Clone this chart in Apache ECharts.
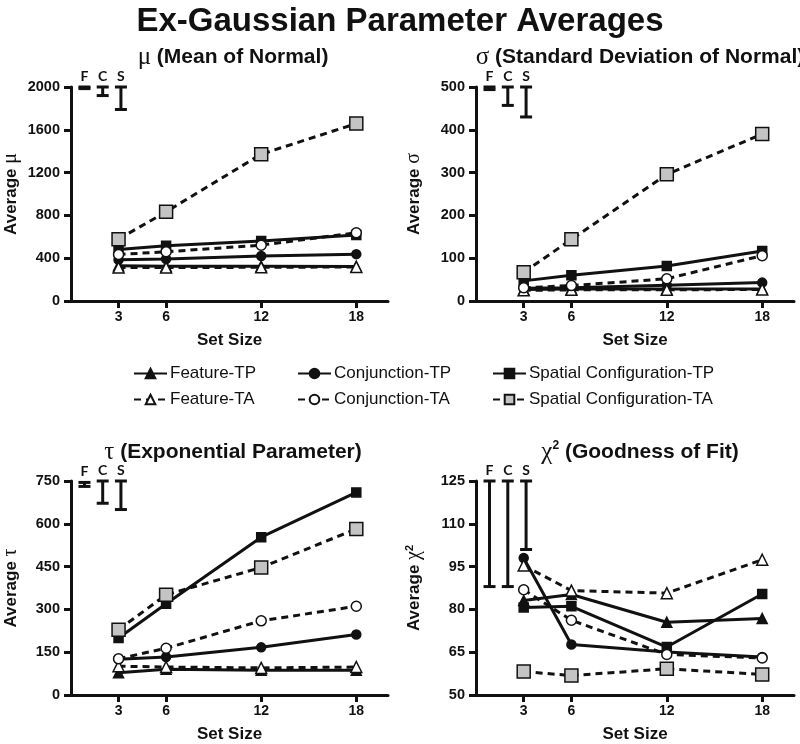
<!DOCTYPE html>
<html>
<head>
<meta charset="utf-8">
<script src="https://cdn.jsdelivr.net/npm/echarts@6/dist/echarts.min.js"></script>
<style>html,body{margin:0;padding:0;background:#fff}#c{width:800px;height:744px}</style>
</head>
<body>
<div id="c"></div>
<script>
// ---------- data ----------
const setSizes = [3, 6, 12, 18];

const muFeatureTP = [330, 325, 325, 322];
const muConjunctionTP = [385, 393, 420, 438];
const muSpatialTP = [482, 516, 560, 616];
const muFeatureTA = [312, 312, 315, 318];
const muConjunctionTA = [435, 460, 522, 638];
const muSpatialTA = [578, 834, 1372, 1658];

const sigmaFeatureTP = [27, 28, 28, 28];
const sigmaConjunctionTP = [30, 31, 37, 43];
const sigmaSpatialTP = [47, 60, 82, 117];
const sigmaFeatureTA = [25, 26, 26, 27];
const sigmaConjunctionTA = [31, 36, 52, 106];
const sigmaSpatialTA = [67, 144, 296, 390];

const tauFeatureTP = [78, 90, 87, 87];
const tauConjunctionTP = [125, 133, 167, 212];
const tauSpatialTP = [200, 320, 553, 710];
const tauFeatureTA = [101, 98, 95, 98];
const tauConjunctionTA = [127, 164, 260, 311];
const tauSpatialTA = [229, 351, 447, 582];

const chiFeatureTP = [83.1, 85.2, 75.5, 76.8];
const chiConjunctionTP = [98.0, 67.7, 65.1, 63.3];
const chiSpatialTP = [80.7, 81.1, 66.8, 85.4];
const chiFeatureTA = [95.4, 86.6, 85.7, 97.4];
const chiConjunctionTA = [86.9, 76.2, 64.2, 63.0];
const chiSpatialTA = [58.2, 56.8, 59.2, 57.2];

// error bars (F, C, S)
const errLabels = ['F', 'C', 'S'];
const errX = [0.85, 2.0, 3.15];
const muErrLow = [1985, 1920, 1790];
const muErrHigh = [2000, 2000, 2000];
const sigmaErrLow = [494, 457, 430];
const sigmaErrHigh = [500, 500, 500];
const tauErrLow = [731, 672, 650];
const tauErrHigh = [745, 750, 750];
const chiErrLow = [88, 88, 101];
const chiErrHigh = [125, 125, 125];

// tick labels
const xTicks = [3, 6, 12, 18];
const muTicks = [0, 400, 800, 1200, 1600, 2000];
const sigmaTicks = [0, 100, 200, 300, 400, 500];
const tauTicks = [0, 150, 300, 450, 600, 750];
const chiTicks = [50, 65, 80, 95, 110, 125];

const seriesNames = ['Feature-TP', 'Conjunction-TP', 'Spatial Configuration-TP',
                     'Feature-TA', 'Conjunction-TA', 'Spatial Configuration-TA'];

// ---------- styling / layout ----------
const INK = '#111';
const FONT = '"Liberation Sans", Arial, sans-serif';
const grids = [
  {left: 68, top: 87, width: 320, height: 214},
  {left: 476, top: 87, width: 318, height: 214},
  {left: 68, top: 481, width: 320, height: 215},
  {left: 476, top: 481, width: 318, height: 215}
];
const panels = [
  {vals: [muFeatureTP, muConjunctionTP, muSpatialTP, muFeatureTA, muConjunctionTA, muSpatialTA],
   err: [muErrLow, muErrHigh], ticks: muTicks, min: 0, max: 2000,
   yName: 'Average {g|μ}', title: '{g|μ} (Mean of Normal)', nameGap: 50, titleTop: 40},
  {vals: [sigmaFeatureTP, sigmaConjunctionTP, sigmaSpatialTP, sigmaFeatureTA, sigmaConjunctionTA, sigmaSpatialTA],
   err: [sigmaErrLow, sigmaErrHigh], ticks: sigmaTicks, min: 0, max: 500,
   yName: 'Average {g|σ}', title: '{g|σ} (Standard Deviation of Normal)', nameGap: 52, titleTop: 40},
  {vals: [tauFeatureTP, tauConjunctionTP, tauSpatialTP, tauFeatureTA, tauConjunctionTA, tauSpatialTA],
   err: [tauErrLow, tauErrHigh], ticks: tauTicks, min: 0, max: 750,
   yName: 'Average {g|τ}', title: '{g|τ} (Exponential Parameter)', nameGap: 50, titleTop: 435},
  {vals: [chiFeatureTP, chiConjunctionTP, chiSpatialTP, chiFeatureTA, chiConjunctionTA, chiSpatialTA],
   err: [chiErrLow, chiErrHigh], ticks: chiTicks, min: 50, max: 125,
   yName: 'Average {g|χ}{sup|2}', title: '{g|χ}{sup|2} (Goodness of Fit)', nameGap: 52, titleTop: 435}
];
const styles = [
  {symbol: 'triangle', size: 10, fill: INK, dash: 'solid'},
  {symbol: 'circle', size: 9, fill: INK, dash: 'solid'},
  {symbol: 'rect', size: 9, fill: INK, dash: 'solid'},
  {symbol: 'triangle', size: 11, fill: '#fff', dash: [7, 5]},
  {symbol: 'circle', size: 10, fill: '#fff', dash: [7, 5]},
  {symbol: 'rect', size: 13, fill: '#c4c4c4', dash: [7, 5]}
];
const greekRich = {
  g: {fontFamily: '"Liberation Serif", serif', fontWeight: 'normal', fontSize: 20, color: INK},
  sup: {fontFamily: FONT, fontWeight: 'bold', fontSize: 11, color: INK, verticalAlign: 'top', padding: [0, 0, 8, 0]}
};

const option = {
  animation: false,
  backgroundColor: '#fff',
  textStyle: {fontFamily: FONT},
  title: [{text: 'Ex-Gaussian Parameter Averages', left: 'center', top: 0,
           textStyle: {fontSize: 33, fontWeight: 'bold', color: INK, fontFamily: FONT}}],
  grid: grids,
  xAxis: [], yAxis: [], series: [],
  legend: [
    ['Feature-TP', 'Feature-TA', 128],
    ['Conjunction-TP', 'Conjunction-TA', 292],
    ['Spatial Configuration-TP', 'Spatial Configuration-TA', 487]
  ].map(l => ({
    data: [l[0], l[1]], left: l[2], top: 360, orient: 'vertical', itemGap: 9,
    itemWidth: 33, itemHeight: 12, selectedMode: false,
    textStyle: {fontSize: 17, color: INK, fontFamily: FONT, padding: [0, 0, 0, -2]}
  }))
};

panels.forEach((p, i) => {
  const g = grids[i];
  option.title.push({
    text: p.title, left: g.left + g.width / 2, top: p.titleTop, textAlign: 'center',
    textStyle: {fontSize: 21, fontWeight: 'bold', color: INK, fontFamily: FONT,
                rich: Object.assign({}, greekRich, {g: Object.assign({}, greekRich.g, {fontSize: 25}),
                  sup: Object.assign({}, greekRich.sup, {fontSize: 12, padding: [0, 0, 10, 0]})})}
  });
  option.xAxis.push({
    type: 'value', gridIndex: i, min: 0, max: 20,
    name: 'Set Size', nameLocation: 'middle', nameGap: 31,
    nameTextStyle: {fontSize: 17, fontWeight: 'bold', color: INK, fontFamily: FONT},
    axisLine: {show: true, lineStyle: {color: INK, width: 3}},
    axisTick: {show: true, length: 7, lineStyle: {color: INK, width: 3}, customValues: xTicks},
    axisLabel: {fontSize: 14, fontWeight: 'bold', color: INK, fontFamily: FONT, margin: 9,
                customValues: xTicks, formatter: v => String(v)},
    splitLine: {show: false}
  });
  option.yAxis.push({
    type: 'value', gridIndex: i, min: p.min, max: p.max,
    name: p.yName, nameLocation: 'middle', nameGap: p.nameGap, nameRotate: 90,
    nameTextStyle: {fontSize: 17, fontWeight: 'bold', color: INK, fontFamily: FONT, rich: greekRich},
    axisLine: {show: true, lineStyle: {color: INK, width: 3}},
    axisTick: {show: true, length: 7, lineStyle: {color: INK, width: 3}, customValues: p.ticks},
    axisLabel: {fontSize: 14.5, fontWeight: 'bold', color: INK, fontFamily: FONT, margin: 11,
                customValues: p.ticks, formatter: v => String(v)},
    splitLine: {show: false}
  });
  // error bars
  option.series.push({
    type: 'custom', xAxisIndex: i, yAxisIndex: i, clip: false, silent: true, z: 5,
    encode: {x: 0, y: [1, 2]},
    data: errX.map((x, k) => [x, p.err[0][k], p.err[1][k]]),
    renderItem: function (params, api) {
      const x = api.value(0);
      const top = api.coord([x, api.value(2)]);
      const bot = api.coord([x, api.value(1)]);
      const w = 6;
      const st = {stroke: INK, lineWidth: 3};
      return {type: 'group', children: [
        {type: 'line', shape: {x1: top[0], y1: top[1], x2: bot[0], y2: bot[1]}, style: st},
        {type: 'line', shape: {x1: top[0] - w, y1: top[1], x2: top[0] + w, y2: top[1]}, style: st},
        {type: 'line', shape: {x1: bot[0] - w, y1: bot[1], x2: bot[0] + w, y2: bot[1]}, style: st},
        {type: 'text', style: {text: errLabels[params.dataIndex], x: top[0], y: top[1] - 4,
          align: 'center', verticalAlign: 'bottom', fill: INK,
          font: 'bold 14px Lato, "Open Sans", sans-serif'}}
      ]};
    }
  });
  seriesNames.forEach((name, k) => {
    const s = styles[k];
    option.series.push({
      type: 'line', name: name, xAxisIndex: i, yAxisIndex: i,
      data: setSizes.map((x, j) => [x, p.vals[k][j]]),
      symbol: s.symbol, symbolSize: s.size, showSymbol: true,
      z: k >= 3 ? 4 : 3,
      lineStyle: {color: INK, width: 3, type: s.dash},
      itemStyle: {color: s.fill, borderColor: INK, borderWidth: 1.5},
      emphasis: {disabled: true}
    });
  });
});

const chart = echarts.init(document.getElementById('c'), null, {renderer: 'canvas'});
chart.setOption(option);
</script>
</body>
</html>
